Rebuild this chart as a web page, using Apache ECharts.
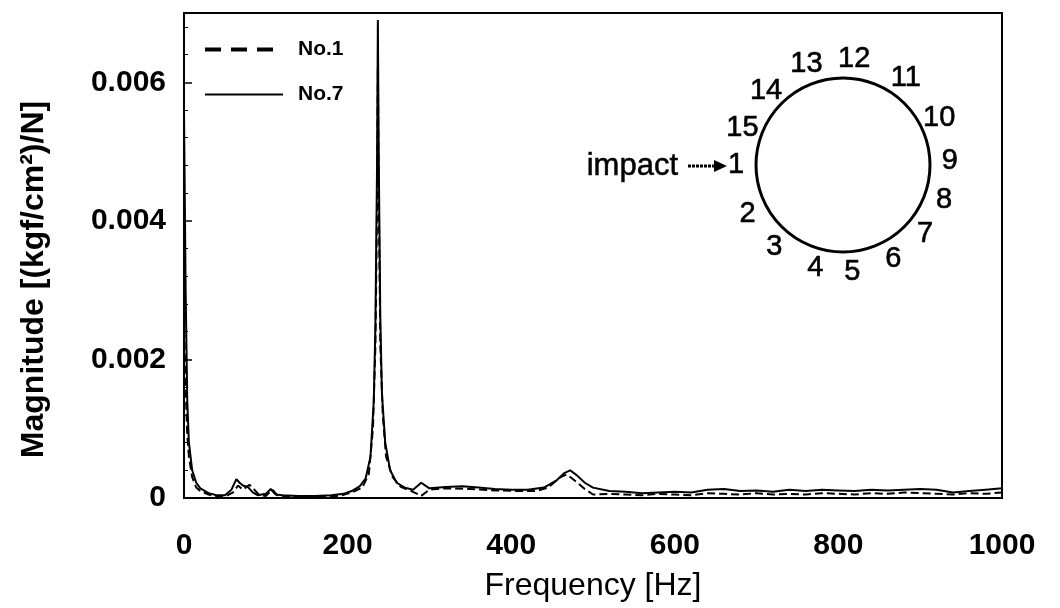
<!DOCTYPE html>
<html>
<head>
<meta charset="utf-8">
<script src="https://cdn.jsdelivr.net/npm/echarts@6/dist/echarts.min.js"></script>
<style>html,body{margin:0;padding:0;background:#fff}#c{width:1060px;height:608px}</style>
</head>
<body>
<div id="c"></div>
<script>
// ---- data ----
const freqNo1 = [0,2,4,6,10,15,20,30,40,50,60,66,72,80,86,92,100,108,114,130,160,190,205,218,226,231,234,236,237,238,240,243,247,255,265,278,290,300,320,350,380,410,430,445,460,468,478,490,500,520,540,560,580,600,620,640,660,680,700,720,740,760,780,800,820,840,860,880,900,920,940,960,980,1000];
const magNo1  = [0.0026,0.0016,0.0009,0.0006,0.0003,0.00015,0.0001,0.00005,0.00002,0.00002,0.00008,0.00018,0.00012,0.00019,0.00012,0.00004,0.00003,0.00012,0.00004,0.00002,0.00002,0.00003,0.00008,0.00015,0.00035,0.0010,0.0022,0.0042,0.0062,0.0045,0.0022,0.0012,0.0006,0.0003,0.00016,0.0001,0.00003,0.00012,0.00014,0.00013,0.00011,0.0001,0.0001,0.00015,0.0003,0.00034,0.00025,0.00013,0.00005,0.00006,0.00005,0.00004,0.00006,0.00005,0.00004,0.00007,0.00006,0.00005,0.00007,0.00005,0.00006,0.00005,0.00007,0.00006,0.00005,0.00007,0.00006,0.00008,0.00007,0.00006,0.00005,0.00007,0.00006,0.00008];
const freqNo7 = [0,2,4,6,10,15,20,30,40,50,58,64,68,72,78,84,90,100,106,112,120,140,160,180,195,205,215,222,228,232,234,236,237,238,240,242,246,252,260,270,280,290,300,320,340,360,380,400,420,440,455,465,472,480,490,500,520,540,560,580,600,620,640,660,680,700,720,740,760,780,800,820,840,860,880,900,920,940,960,980,1000];
const magNo7  = [0.0056,0.0030,0.0014,0.0008,0.0004,0.00022,0.00014,0.00007,0.00004,0.00004,0.00012,0.00027,0.00022,0.00018,0.00016,0.00008,0.00004,0.00006,0.00013,0.00005,0.00004,0.00003,0.00003,0.00004,0.00006,0.0001,0.00017,0.00028,0.0006,0.0014,0.0025,0.0048,0.0069,0.0050,0.0026,0.0015,0.0008,0.0004,0.00022,0.00015,0.00012,0.00022,0.00014,0.00016,0.00017,0.00015,0.00013,0.00012,0.00012,0.00015,0.00025,0.00036,0.0004,0.00033,0.00022,0.00015,0.0001,0.00009,0.00007,0.00008,0.00009,0.00008,0.00012,0.00013,0.0001,0.00011,0.00009,0.00012,0.0001,0.00012,0.00011,0.0001,0.00012,0.00011,0.00012,0.00013,0.00012,0.00008,0.0001,0.00012,0.00014];
const seriesNames = ['No.1','No.7'];
const yTickLabels = {0:'0',0.002:'0.002',0.004:'0.004',0.006:'0.006'};
// measurement positions around the ring (label, angle in degrees counter-clockwise from the right)
const ringPositions = ['1','2','3','4','5','6','7','8','9','10','11','12','13','14','15'];
const ringAngles    = [180,207,230,255,275,298,320,341,2,26,54,84,110,136,160];
const impactLabel = 'impact';

const pairs = (xs, ys) => xs.map((x,i)=>[x, ys[i]]);

const chart = echarts.init(document.getElementById('c'));
const sans = "'Liberation Sans', Arial, sans-serif";
const narrow = "'Liberation Sans Narrow', 'Liberation Sans', sans-serif";
const RING_R = 87, LABEL_R = 107, OUTER_R = 125;

chart.setOption({
  backgroundColor: '#fff',
  animation: false,
  grid: { left: 184, right: 58, top: 13, bottom: 110, show: true, borderColor: '#000', borderWidth: 2 },
  legend: {
    data: [
      { name: seriesNames[0], itemStyle: { opacity: 0 }, lineStyle: { width: 4, type: [16, 10] } },
      { name: seriesNames[1], itemStyle: { opacity: 0 }, lineStyle: { width: 2 } }
    ],
    orient: 'vertical', left: 198, top: 34, itemGap: 24,
    itemWidth: 78, itemHeight: 14,
    textStyle: { color: '#000', fontFamily: narrow, fontWeight: 'bold', fontSize: 21, padding:[0,0,0,10] }
  },
  xAxis: {
    type: 'value', min: 0, max: 1000, interval: 200,
    name: 'Frequency [Hz]', nameLocation: 'middle', nameGap: 72,
    nameTextStyle: { color: '#000', fontFamily: narrow, fontSize: 32 },
    axisLine: { lineStyle: { color: '#000', width: 2 } },
    axisTick: { show: false },
    axisLabel: { color: '#000', fontFamily: narrow, fontWeight: 'bold', fontSize: 30, margin: 33,
      formatter: v => String(v) },
    splitLine: { show: false }
  },
  yAxis: {
    type: 'value', min: 0, max: 0.007, interval: 0.002,
    name: 'Magnitude [(kgf/cm²)/N]', nameLocation: 'middle', nameGap: 134,
    nameTextStyle: { color: '#000', fontFamily: sans, fontWeight: 'bold', fontSize: 32, padding: [0, 48, 0, 0] },
    axisLine: { lineStyle: { color: '#000', width: 2 } },
    axisTick: { show: true, inside: true, length: 8, lineStyle: { color: '#000', width: 1.5 } },
    minorTick: { show: true, splitNumber: 5, length: 4, lineStyle: { color: '#000' } },
    axisLabel: { color: '#000', fontFamily: sans, fontWeight: 'bold', fontSize: 30, margin: 18,
      formatter: v => (yTickLabels[+v.toFixed(3)] !== undefined ? yTickLabels[+v.toFixed(3)] : '') },
    splitLine: { show: false }
  },
  polar: [
    { center: [843, 165], radius: RING_R },
    { center: [843, 165], radius: OUTER_R }
  ],
  angleAxis: [
    { polarIndex: 0, type: 'value', min: 0, max: 360, startAngle: 0, clockwise: false,
      axisLine: { lineStyle: { color: '#000', width: 3 } },
      axisTick: { show: false }, splitLine: { show: false }, axisLabel: { show: false } },
    { polarIndex: 1, type: 'value', min: 0, max: 360, startAngle: 0, clockwise: false,
      axisLine: { show: false }, axisTick: { show: false }, splitLine: { show: false }, axisLabel: { show: false } }
  ],
  radiusAxis: [
    { polarIndex: 0, type: 'value', show: false, min: 0, max: RING_R },
    { polarIndex: 1, type: 'value', show: false, min: 0, max: OUTER_R }
  ],
  series: [
    { name: seriesNames[0], type: 'line', data: pairs(freqNo1, magNo1), symbol: 'none',
      lineStyle: { color: '#000', width: 2, type: [8, 4] }, itemStyle: { color: '#000' } },
    { name: seriesNames[1], type: 'line', data: pairs(freqNo7, magNo7), symbol: 'none',
      lineStyle: { color: '#000', width: 2 }, itemStyle: { color: '#000' } },
    { type: 'scatter', coordinateSystem: 'polar', polarIndex: 1, clip: false, silent: true,
      symbol: 'circle', symbolSize: 2, itemStyle: { color: '#fff', opacity: 0.01 },
      data: ringPositions.map((p, i) => ({ name: p, value: [LABEL_R, ringAngles[i]] })),
      label: { show: true, position: 'inside', formatter: '{b}', color: '#000', opacity: 1,
        textBorderWidth: 0.6, textBorderColor: '#000', fontFamily: sans, fontSize: 29 } }
  ],
  graphic: [
    { type: 'text', x: 678, y: 166, style: { text: impactLabel, fill: '#000', stroke: '#000', lineWidth: 0.5, align: 'right', verticalAlign: 'middle', font: "31px 'Liberation Sans', Arial, sans-serif" } },
    { type: 'line', shape: { x1: 688, y1: 166, x2: 716, y2: 166 }, style: { stroke: '#000', lineWidth: 3, lineDash: [3,1] } },
    { type: 'polygon', shape: { points: [[714,160],[727,166],[714,172]] }, style: { fill: '#000' } }
  ]
});
</script>
</body>
</html>
